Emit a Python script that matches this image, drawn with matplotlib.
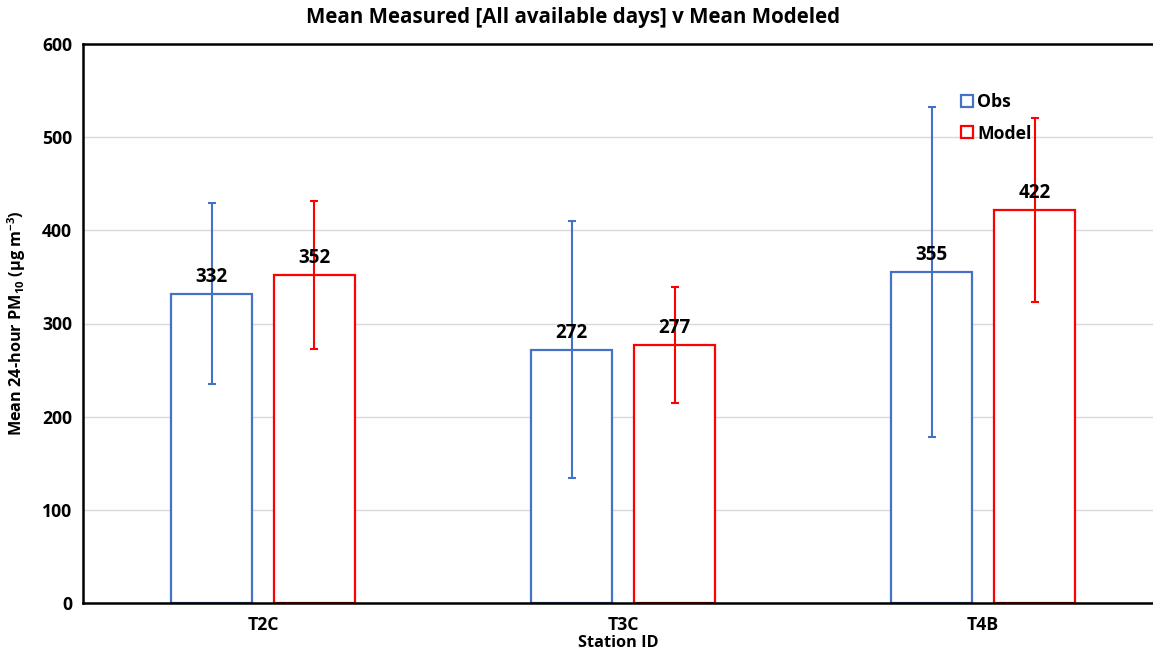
import numpy as np
import matplotlib.pyplot as plt
from matplotlib.lines import Line2D

stations = ["T2C", "T3C", "T4B"]
obs_mean = [332, 272, 355]
obs_err = [97, 138, 177]
model_mean = [352, 277, 422]
model_err = [79, 62, 99]

blue = "#4472C4"
red = "#FF0000"

plt.rcParams['font.family'] = ['Open Sans', 'DejaVu Sans']
plt.rcParams['font.weight'] = 'bold'
plt.rcParams['mathtext.fontset'] = 'custom'
plt.rcParams['mathtext.rm'] = 'Open Sans:bold'
plt.rcParams['mathtext.default'] = 'rm'

fig = plt.figure(figsize=(11.53, 6.51), dpi=100)
ax = fig.add_axes([83 / 1153, 1 - 603 / 651, 1070 / 1153, 559 / 651])

x = np.arange(len(stations))
w = 0.225
off = 0.143

ax.bar(x - off, obs_mean, w, facecolor='white', edgecolor=blue, linewidth=1.6, zorder=2)
ax.bar(x + off, model_mean, w, facecolor='white', edgecolor=red, linewidth=1.6, zorder=2)
ax.errorbar(x - off, obs_mean, yerr=obs_err, fmt='none', ecolor=blue, elinewidth=1.5,
            capsize=3, capthick=1.5, zorder=3)
ax.errorbar(x + off, model_mean, yerr=model_err, fmt='none', ecolor=red, elinewidth=1.5,
            capsize=3, capthick=1.5, zorder=3)

for xi, v in zip(x - off, obs_mean):
    ax.annotate(str(v), (xi, v), xytext=(0, 5), textcoords='offset points',
                ha='center', va='bottom', fontsize=13.5, fontweight='bold', zorder=4)
for xi, v in zip(x + off, model_mean):
    ax.annotate(str(v), (xi, v), xytext=(0, 5), textcoords='offset points',
                ha='center', va='bottom', fontsize=13.5, fontweight='bold', zorder=4)

ax.set_xlim(-0.5, 2.472)
ax.set_ylim(0, 600)
ax.set_yticks(range(0, 601, 100))
ax.set_xticks(x)
ax.set_xticklabels(stations)
ax.tick_params(axis='both', length=0, labelsize=12.7, pad=8)
ax.tick_params(axis='x', pad=9)
for lab in ax.get_xticklabels() + ax.get_yticklabels():
    lab.set_fontweight('bold')

ax.grid(axis='y', color='#D9D9D9', linewidth=1, zorder=0)
ax.set_axisbelow(True)
for s in ['left', 'bottom', 'top']:
    ax.spines[s].set_color('black')
    ax.spines[s].set_linewidth(1.8)
ax.spines['right'].set_visible(False)

# title is centred on the whole figure in the reference
fig.suptitle("Mean Measured [All available days] v Mean Modeled", fontsize=14.8,
             fontweight='bold', x=0.497, y=1 - 18 / 651, va='center')
ax.set_ylabel("Mean 24-hour PM$_{10}$ (μg m$^{-3}$)", fontsize=11.7, fontweight='bold', labelpad=10)
ax.set_xlabel("Station ID", fontsize=11.7, fontweight='bold', labelpad=1)

handles = [Line2D([], [], marker='s', linestyle='none', markerfacecolor='white',
                  markeredgecolor=blue, markeredgewidth=1.6, markersize=9),
           Line2D([], [], marker='s', linestyle='none', markerfacecolor='white',
                  markeredgecolor=red, markeredgewidth=1.6, markersize=9)]
ax.legend(handles, ["Obs", "Model"], loc='upper left', bbox_to_anchor=(0.803, 0.941),
          frameon=False, handletextpad=0.1, handlelength=1.0,
          labelspacing=0.78, prop={'weight': 'bold', 'size': 12.7})

fig.savefig("out.png", dpi=100)
